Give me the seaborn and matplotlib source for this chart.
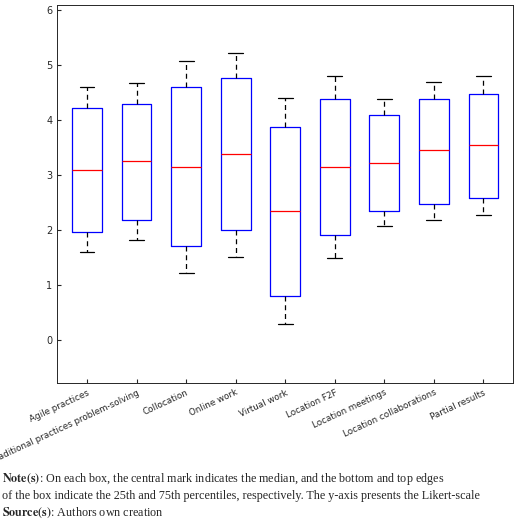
import numpy as np
import pandas as pd
import matplotlib
matplotlib.use("Agg")
import matplotlib.pyplot as plt
import seaborn as sns

categories = ["Agile practices", "Traditional practices problem-solving", "Collocation",
              "Online work", "Virtual work", "Location F2F", "Location meetings",
              "Location collaborations", "Partial results"]
lows = [1.60, 1.82, 1.22, 1.52, 0.30, 1.50, 2.07, 2.18, 2.27]
q1s = [1.97, 2.18, 1.72, 2.00, 0.80, 1.92, 2.35, 2.48, 2.58]
medians = [3.10, 3.25, 3.15, 3.38, 2.35, 3.15, 3.22, 3.45, 3.55]
q3s = [4.22, 4.30, 4.60, 4.77, 3.88, 4.38, 4.10, 4.38, 4.48]
highs = [4.60, 4.67, 5.08, 5.22, 4.40, 4.80, 4.38, 4.70, 4.80]

# five points per box so that the quartiles land on the read values
rows = []
for c, a, b, m, d, e in zip(categories, lows, q1s, medians, q3s, highs):
    for v in (a, b, m, d, e):
        rows.append({"item": c, "score": v})
df = pd.DataFrame(rows)

sns.set_style("ticks")
plt.rcParams["mathtext.fontset"] = "stix"
fig = plt.figure(figsize=(5.2, 5.27), dpi=100)
ax = fig.add_axes([0.11, 0.273, 0.877, 0.717])

sns.boxplot(data=df, x="item", y="score", ax=ax, whis=np.inf, width=0.6, fill=False,
            linewidth=0.9,
            boxprops=dict(color="blue"),
            medianprops=dict(color="red"),
            whiskerprops=dict(color="black", linestyle=(0, (4, 3))),
            capprops=dict(color="black"))

ax.set_ylim(-0.78, 6.09)
ax.set_yticks(range(0, 7))
ax.set_xlim(-0.6, 8.6)
ax.set_xlabel("")
ax.set_ylabel("")
ax.tick_params(direction="in", labelsize=7, length=3)
ax.tick_params(axis="x", labelsize=6.3)
plt.setp(ax.get_xticklabels(), rotation=25, ha="right", rotation_mode="anchor")
for s in ax.spines.values():
    s.set_visible(True)
    s.set_linewidth(0.7)

serif = "Liberation Serif"
fig.text(0.003, 0.085, r"$\mathbf{Note(s)}$: On each box, the central mark indicates the median, and the bottom and top edges",
         fontsize=8.7, family=serif)
fig.text(0.003, 0.053, "of the box indicate the 25th and 75th percentiles, respectively. The y-axis presents the Likert-scale",
         fontsize=8.7, family=serif)
fig.text(0.003, 0.022, r"$\mathbf{Source(s)}$: Authors own creation", fontsize=8.7, family=serif)

fig.savefig("out.png", dpi=100)
